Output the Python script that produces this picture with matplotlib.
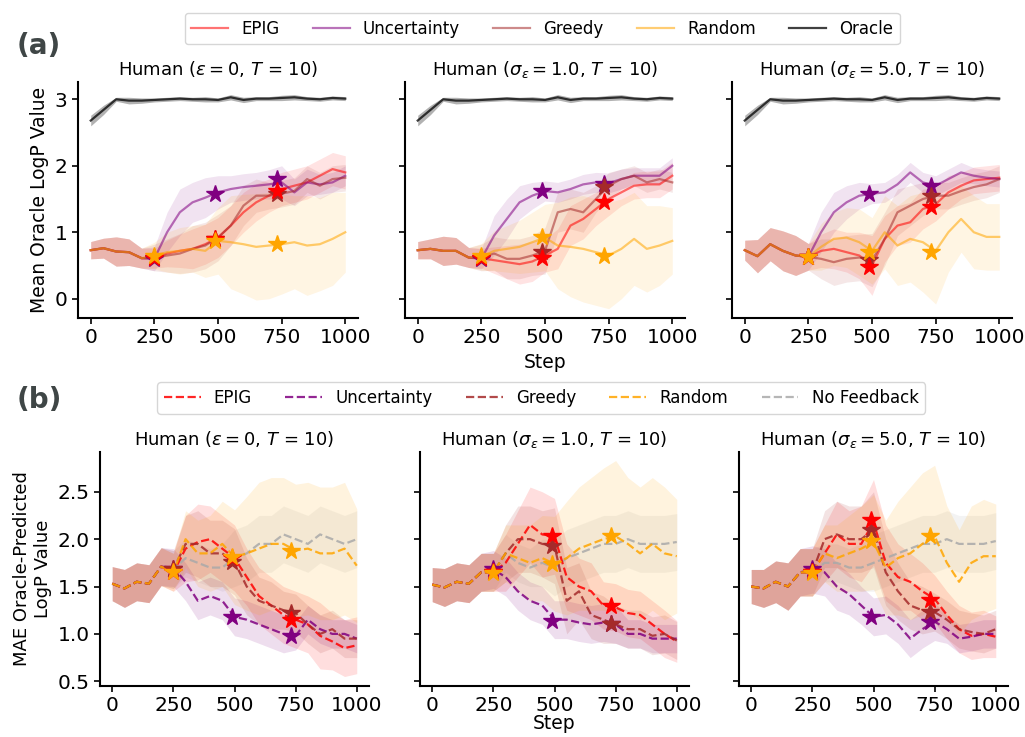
import numpy as np
import matplotlib
matplotlib.use("Agg")
from matplotlib import pyplot as plt
from matplotlib.lines import Line2D

steps = list(range(0, 1001, 50))
star_steps = [250, 490, 730]

titles = [r"Human ($\varepsilon = 0$, $T$ = 10)",
          r"Human ($\sigma_\varepsilon = 1.0$, $T$ = 10)",
          r"Human ($\sigma_\varepsilon = 5.0$, $T$ = 10)"]

# ---- (a) mean oracle logP ----
oracle = [2.68, 2.84, 3.0, 2.98, 2.98, 2.99, 3.0, 3.01, 3.0, 3.0, 2.99, 3.03, 2.99, 3.01, 3.01, 3.02, 3.03, 3.01, 3.0, 3.02, 3.01]
oracle_sd = [0.08, 0.07, 0.03, 0.05, 0.04, 0.03, 0.03, 0.03, 0.03, 0.04, 0.03, 0.04, 0.04, 0.03, 0.03, 0.04, 0.04, 0.03, 0.03, 0.03, 0.03]

a0_epig = [0.73, 0.76, 0.71, 0.70, 0.61, 0.61, 0.68, 0.72, 0.75, 0.82, 0.92, 1.1, 1.3, 1.45, 1.55, 1.65, 1.7, 1.75, 1.85, 1.95, 1.9]
a0_unc = [0.73, 0.76, 0.71, 0.70, 0.61, 0.60, 1.0, 1.3, 1.45, 1.52, 1.6, 1.65, 1.68, 1.7, 1.72, 1.75, 1.6, 1.75, 1.72, 1.75, 1.85]
a0_greedy = [0.73, 0.76, 0.71, 0.70, 0.61, 0.62, 0.65, 0.68, 0.75, 0.8, 0.92, 1.1, 1.4, 1.55, 1.55, 1.58, 1.62, 1.8, 1.7, 1.8, 1.82]
a0_rand = [0.73, 0.76, 0.71, 0.70, 0.61, 0.65, 0.7, 0.72, 0.75, 0.72, 0.87, 0.85, 0.82, 0.78, 0.8, 0.82, 0.85, 0.8, 0.82, 0.9, 1.0]
a0_epig_sd = [0.13, 0.15, 0.22, 0.2, 0.15, 0.15, 0.2, 0.25, 0.3, 0.3, 0.3, 0.3, 0.3, 0.28, 0.25, 0.25, 0.25, 0.25, 0.25, 0.25, 0.25]
a0_unc_sd = [0.13, 0.15, 0.22, 0.2, 0.15, 0.18, 0.3, 0.35, 0.3, 0.3, 0.25, 0.2, 0.2, 0.2, 0.22, 0.25, 0.2, 0.2, 0.15, 0.15, 0.15]
a0_greedy_sd = [0.13, 0.15, 0.22, 0.2, 0.15, 0.2, 0.25, 0.3, 0.35, 0.35, 0.35, 0.3, 0.3, 0.25, 0.2, 0.2, 0.2, 0.2, 0.2, 0.2, 0.2]
a0_rand_sd = [0.13, 0.15, 0.22, 0.2, 0.15, 0.2, 0.3, 0.35, 0.35, 0.4, 0.5, 0.7, 0.75, 0.8, 0.8, 0.75, 0.7, 0.75, 0.7, 0.7, 0.6]
a0_stars = {"epig": [0.62, 0.9, 1.62], "unc": [0.6, 1.58, 1.8], "greedy": [0.62, 0.9, 1.58], "rand": [0.65, 0.87, 0.82]}

a1_epig = [0.73, 0.75, 0.72, 0.72, 0.62, 0.61, 0.58, 0.55, 0.52, 0.56, 0.65, 0.75, 1.1, 1.2, 1.35, 1.5, 1.6, 1.7, 1.72, 1.72, 1.85]
a1_unc = [0.73, 0.75, 0.72, 0.72, 0.62, 0.60, 0.95, 1.2, 1.45, 1.55, 1.62, 1.6, 1.65, 1.72, 1.75, 1.74, 1.8, 1.85, 1.85, 1.85, 2.0]
a1_greedy = [0.73, 0.75, 0.72, 0.72, 0.62, 0.62, 0.68, 0.6, 0.6, 0.65, 0.72, 1.3, 1.35, 1.3, 1.5, 1.7, 1.8, 1.85, 1.75, 1.8, 1.75]
a1_rand = [0.73, 0.75, 0.72, 0.72, 0.62, 0.63, 0.72, 0.75, 0.78, 0.85, 0.92, 0.8, 0.78, 0.75, 0.7, 0.65, 0.75, 0.9, 0.75, 0.8, 0.87]
a1_epig_sd = [0.13, 0.15, 0.22, 0.2, 0.15, 0.15, 0.2, 0.25, 0.3, 0.3, 0.25, 0.3, 0.3, 0.3, 0.25, 0.25, 0.2, 0.2, 0.2, 0.2, 0.2]
a1_unc_sd = [0.13, 0.15, 0.22, 0.2, 0.15, 0.15, 0.3, 0.3, 0.25, 0.2, 0.15, 0.15, 0.15, 0.15, 0.15, 0.15, 0.15, 0.12, 0.12, 0.12, 0.12]
a1_greedy_sd = [0.13, 0.15, 0.22, 0.2, 0.15, 0.2, 0.25, 0.3, 0.3, 0.3, 0.35, 0.3, 0.3, 0.3, 0.2, 0.2, 0.15, 0.15, 0.15, 0.15, 0.15]
a1_rand_sd = [0.13, 0.15, 0.22, 0.2, 0.15, 0.2, 0.3, 0.35, 0.4, 0.45, 0.5, 0.65, 0.75, 0.8, 0.8, 0.8, 0.75, 0.7, 0.65, 0.6, 0.5]
a1_stars = {"epig": [0.62, 0.62, 1.46], "unc": [0.6, 1.62, 1.73], "greedy": [0.62, 0.7, 1.68], "rand": [0.64, 0.93, 0.64]}

a2_epig = [0.73, 0.64, 0.82, 0.72, 0.65, 0.63, 0.72, 0.75, 0.7, 0.65, 0.5, 0.9, 1.1, 1.15, 1.35, 1.42, 1.6, 1.7, 1.78, 1.8, 1.82]
a2_unc = [0.73, 0.64, 0.82, 0.72, 0.65, 0.63, 1.0, 1.3, 1.45, 1.55, 1.58, 1.6, 1.72, 1.9, 1.75, 1.7, 1.8, 1.9, 1.85, 1.82, 1.8]
a2_greedy = [0.73, 0.64, 0.82, 0.72, 0.65, 0.63, 0.6, 0.55, 0.6, 0.62, 0.58, 0.9, 1.3, 1.4, 1.5, 1.55, 1.55, 1.62, 1.68, 1.72, 1.8]
a2_rand = [0.73, 0.64, 0.82, 0.72, 0.65, 0.63, 0.78, 0.9, 0.92, 0.85, 0.72, 1.0, 0.8, 0.9, 0.85, 0.72, 1.0, 1.2, 1.0, 0.93, 0.93]
a2_epig_sd = [0.15, 0.25, 0.25, 0.3, 0.3, 0.2, 0.25, 0.3, 0.3, 0.35, 0.45, 0.35, 0.3, 0.3, 0.3, 0.25, 0.25, 0.2, 0.2, 0.2, 0.2]
a2_unc_sd = [0.15, 0.25, 0.25, 0.3, 0.3, 0.2, 0.3, 0.3, 0.25, 0.2, 0.15, 0.15, 0.15, 0.15, 0.15, 0.15, 0.15, 0.15, 0.12, 0.12, 0.12]
a2_greedy_sd = [0.15, 0.25, 0.25, 0.3, 0.3, 0.2, 0.3, 0.35, 0.35, 0.35, 0.4, 0.4, 0.35, 0.3, 0.25, 0.2, 0.2, 0.2, 0.2, 0.2, 0.2]
a2_rand_sd = [0.15, 0.25, 0.25, 0.3, 0.3, 0.2, 0.35, 0.4, 0.45, 0.5, 0.5, 0.55, 0.6, 0.65, 0.75, 0.8, 0.6, 0.5, 0.55, 0.5, 0.5]
a2_stars = {"epig": [0.63, 0.47, 1.38], "unc": [0.63, 1.58, 1.7], "greedy": [0.63, 0.58, 1.55], "rand": [0.63, 0.7, 0.7]}

# ---- (b) MAE oracle-predicted ----
b0_epig = [1.53, 1.48, 1.55, 1.53, 1.71, 1.65, 1.9, 1.97, 2.0, 1.9, 1.8, 1.6, 1.4, 1.3, 1.2, 1.15, 1.1, 0.98, 0.92, 0.85, 0.88]
b0_unc = [1.53, 1.48, 1.55, 1.53, 1.71, 1.7, 1.55, 1.35, 1.4, 1.35, 1.18, 1.15, 1.1, 1.05, 1.0, 0.98, 1.15, 1.05, 1.0, 1.0, 0.95]
b0_greedy = [1.53, 1.48, 1.55, 1.53, 1.71, 1.68, 1.95, 1.95, 1.85, 1.85, 1.76, 1.5, 1.35, 1.3, 1.25, 1.22, 1.1, 1.0, 1.05, 0.95, 0.95]
b0_rand = [1.53, 1.48, 1.55, 1.53, 1.71, 1.65, 2.0, 1.85, 1.85, 1.95, 1.81, 1.85, 1.9, 1.95, 1.95, 1.88, 1.9, 1.85, 1.85, 1.9, 1.72]
b0_nofb = [1.53, 1.48, 1.55, 1.53, 1.71, 1.68, 1.8, 1.75, 1.7, 1.7, 1.8, 1.85, 1.95, 1.95, 2.05, 2.0, 1.95, 2.05, 2.0, 1.95, 2.0]
b0_epig_sd = [0.18, 0.2, 0.2, 0.2, 0.2, 0.2, 0.35, 0.4, 0.35, 0.35, 0.35, 0.3, 0.3, 0.3, 0.3, 0.3, 0.3, 0.35, 0.3, 0.3, 0.3]
b0_unc_sd = [0.18, 0.2, 0.2, 0.2, 0.2, 0.2, 0.2, 0.2, 0.2, 0.2, 0.2, 0.2, 0.2, 0.2, 0.2, 0.15, 0.15, 0.15, 0.15, 0.15, 0.15]
b0_greedy_sd = [0.18, 0.2, 0.2, 0.2, 0.2, 0.2, 0.3, 0.35, 0.35, 0.35, 0.35, 0.3, 0.25, 0.25, 0.2, 0.2, 0.2, 0.2, 0.2, 0.2, 0.2]
b0_rand_sd = [0.18, 0.2, 0.2, 0.2, 0.2, 0.2, 0.3, 0.35, 0.4, 0.45, 0.5, 0.6, 0.7, 0.7, 0.7, 0.7, 0.7, 0.7, 0.7, 0.7, 0.6]
b0_nofb_sd = [0.18, 0.2, 0.2, 0.2, 0.2, 0.2, 0.2, 0.2, 0.2, 0.25, 0.3, 0.3, 0.3, 0.3, 0.3, 0.3, 0.3, 0.3, 0.3, 0.3, 0.3]
b0_stars = {"epig": [1.65, 1.8, 1.15], "unc": [1.68, 1.18, 0.98], "greedy": [1.68, 1.76, 1.22], "rand": [1.65, 1.81, 1.88]}

b1_epig = [1.52, 1.49, 1.55, 1.53, 1.65, 1.65, 1.75, 1.95, 2.15, 2.05, 2.03, 1.6, 1.5, 1.45, 1.3, 1.28, 1.22, 1.2, 1.1, 1.0, 0.92]
b1_unc = [1.52, 1.49, 1.55, 1.53, 1.65, 1.68, 1.6, 1.45, 1.35, 1.3, 1.15, 1.15, 1.12, 1.1, 1.12, 1.1, 1.0, 1.0, 0.95, 0.95, 0.95]
b1_greedy = [1.52, 1.49, 1.55, 1.53, 1.65, 1.65, 1.85, 2.0, 2.0, 1.95, 1.93, 1.35, 1.45, 1.2, 1.15, 1.1, 1.05, 1.05, 0.98, 1.0, 0.93]
b1_rand = [1.52, 1.49, 1.55, 1.53, 1.65, 1.65, 1.85, 1.8, 1.75, 1.8, 1.74, 1.8, 1.9, 1.95, 2.0, 2.03, 1.95, 1.85, 1.95, 1.85, 1.82]
b1_nofb = [1.52, 1.49, 1.55, 1.53, 1.65, 1.65, 1.85, 1.75, 1.7, 1.75, 1.7, 1.8, 1.85, 1.9, 1.95, 1.95, 2.0, 1.95, 1.95, 1.95, 1.97]
b1_epig_sd = [0.18, 0.2, 0.2, 0.2, 0.2, 0.2, 0.3, 0.35, 0.4, 0.45, 0.4, 0.35, 0.3, 0.3, 0.25, 0.25, 0.25, 0.25, 0.25, 0.25, 0.22]
b1_unc_sd = [0.18, 0.2, 0.2, 0.2, 0.2, 0.2, 0.2, 0.2, 0.2, 0.2, 0.2, 0.2, 0.2, 0.2, 0.2, 0.2, 0.15, 0.15, 0.15, 0.15, 0.15]
b1_greedy_sd = [0.18, 0.2, 0.2, 0.2, 0.2, 0.2, 0.3, 0.35, 0.35, 0.35, 0.4, 0.35, 0.3, 0.25, 0.25, 0.2, 0.2, 0.2, 0.2, 0.2, 0.2]
b1_rand_sd = [0.18, 0.2, 0.2, 0.2, 0.2, 0.2, 0.3, 0.35, 0.4, 0.45, 0.5, 0.6, 0.65, 0.7, 0.75, 0.8, 0.7, 0.7, 0.7, 0.7, 0.6]
b1_nofb_sd = [0.18, 0.2, 0.2, 0.2, 0.2, 0.2, 0.2, 0.2, 0.2, 0.25, 0.3, 0.3, 0.3, 0.3, 0.3, 0.3, 0.3, 0.3, 0.3, 0.3, 0.3]
b1_stars = {"epig": [1.65, 2.03, 1.29], "unc": [1.68, 1.14, 1.1], "greedy": [1.65, 1.93, 1.1], "rand": [1.64, 1.74, 2.03]}

b2_epig = [1.5, 1.48, 1.55, 1.5, 1.65, 1.65, 1.85, 2.05, 1.95, 1.95, 2.18, 1.75, 1.6, 1.55, 1.45, 1.37, 1.2, 1.05, 0.98, 1.0, 0.97]
b2_unc = [1.5, 1.48, 1.55, 1.5, 1.65, 1.68, 1.65, 1.5, 1.42, 1.3, 1.18, 1.2, 1.1, 0.95, 1.05, 1.13, 1.05, 0.95, 0.97, 1.0, 1.0]
b2_greedy = [1.5, 1.48, 1.55, 1.5, 1.65, 1.65, 2.0, 2.05, 2.0, 2.0, 2.1, 1.65, 1.45, 1.3, 1.25, 1.23, 1.15, 1.05, 1.02, 1.0, 1.05]
b2_rand = [1.5, 1.48, 1.55, 1.5, 1.65, 1.65, 1.85, 1.8, 1.85, 1.9, 1.97, 1.7, 1.8, 1.85, 1.95, 2.03, 1.75, 1.55, 1.75, 1.82, 1.82]
b2_nofb = [1.5, 1.48, 1.55, 1.5, 1.65, 1.65, 1.75, 1.75, 1.7, 1.7, 1.75, 1.8, 1.85, 1.9, 1.95, 1.95, 2.0, 1.95, 1.95, 1.95, 1.98]
b2_epig_sd = [0.18, 0.2, 0.22, 0.25, 0.25, 0.25, 0.3, 0.35, 0.35, 0.4, 0.45, 0.4, 0.35, 0.3, 0.3, 0.25, 0.25, 0.25, 0.25, 0.25, 0.22]
b2_unc_sd = [0.18, 0.2, 0.22, 0.25, 0.25, 0.25, 0.25, 0.25, 0.22, 0.2, 0.2, 0.2, 0.2, 0.2, 0.2, 0.2, 0.15, 0.15, 0.15, 0.15, 0.15]
b2_greedy_sd = [0.18, 0.2, 0.22, 0.25, 0.25, 0.25, 0.3, 0.35, 0.35, 0.35, 0.4, 0.35, 0.3, 0.25, 0.25, 0.2, 0.2, 0.2, 0.2, 0.2, 0.2]
b2_rand_sd = [0.18, 0.2, 0.22, 0.25, 0.25, 0.25, 0.3, 0.35, 0.4, 0.45, 0.5, 0.5, 0.6, 0.7, 0.75, 0.75, 0.6, 0.55, 0.6, 0.6, 0.55]
b2_nofb_sd = [0.18, 0.2, 0.22, 0.25, 0.25, 0.25, 0.2, 0.2, 0.2, 0.25, 0.3, 0.3, 0.3, 0.3, 0.3, 0.3, 0.3, 0.3, 0.3, 0.3, 0.3]
b2_stars = {"epig": [1.65, 2.2, 1.36], "unc": [1.68, 1.18, 1.13], "greedy": [1.65, 2.1, 1.23], "rand": [1.64, 1.98, 2.03]}

colors = {"epig": "red", "unc": "purple", "greedy": "brown", "rand": "orange",
          "oracle": "black", "nofb": "darkgray"}
names = {"epig": "EPIG", "unc": "Uncertainty", "greedy": "Greedy", "rand": "Random",
         "oracle": "Oracle", "nofb": "No Feedback"}

top_panels = [
    {"epig": (a0_epig, a0_epig_sd), "unc": (a0_unc, a0_unc_sd), "greedy": (a0_greedy, a0_greedy_sd),
     "rand": (a0_rand, a0_rand_sd), "stars": a0_stars},
    {"epig": (a1_epig, a1_epig_sd), "unc": (a1_unc, a1_unc_sd), "greedy": (a1_greedy, a1_greedy_sd),
     "rand": (a1_rand, a1_rand_sd), "stars": a1_stars},
    {"epig": (a2_epig, a2_epig_sd), "unc": (a2_unc, a2_unc_sd), "greedy": (a2_greedy, a2_greedy_sd),
     "rand": (a2_rand, a2_rand_sd), "stars": a2_stars},
]
bot_panels = [
    {"epig": (b0_epig, b0_epig_sd), "unc": (b0_unc, b0_unc_sd), "greedy": (b0_greedy, b0_greedy_sd),
     "rand": (b0_rand, b0_rand_sd), "nofb": (b0_nofb, b0_nofb_sd), "stars": b0_stars},
    {"epig": (b1_epig, b1_epig_sd), "unc": (b1_unc, b1_unc_sd), "greedy": (b1_greedy, b1_greedy_sd),
     "rand": (b1_rand, b1_rand_sd), "nofb": (b1_nofb, b1_nofb_sd), "stars": b1_stars},
    {"epig": (b2_epig, b2_epig_sd), "unc": (b2_unc, b2_unc_sd), "greedy": (b2_greedy, b2_greedy_sd),
     "rand": (b2_rand, b2_rand_sd), "nofb": (b2_nofb, b2_nofb_sd), "stars": b2_stars},
]

plt.rcParams["font.family"] = ["DejaVu Sans"]
fig = plt.figure(figsize=(10.25, 7.37), dpi=100)
W, H = 1025, 737


def add_ax(left, top, right, bottom):
    return fig.add_axes([left / W, 1 - bottom / H, (right - left) / W, (bottom - top) / H])


def style(ax):
    for s in ["top", "right"]:
        ax.spines[s].set_visible(False)
    for s in ["left", "bottom"]:
        ax.spines[s].set_linewidth(1.5)
    ax.tick_params(labelsize=14.5, width=1.2, length=4)
    ax.set_xlim(-50, 1050)
    ax.set_xticks([0, 250, 500, 750, 1000])


x = np.array(steps)
star_order = ["unc", "greedy", "epig", "rand"]
top_lefts = [78, 405, 732]
for i, p in enumerate(top_panels):
    ax = add_ax(top_lefts[i], 82, top_lefts[i] + 280, 318)
    style(ax)
    m = np.array(oracle); s = np.array(oracle_sd)
    ax.fill_between(x, m - s, m + s, color="black", alpha=0.3, lw=0)
    ax.plot(x, m, color="black", alpha=0.75, lw=1.6)
    for k in ["epig", "unc", "greedy", "rand"]:
        m = np.array(p[k][0]); s = np.array(p[k][1])
        ax.fill_between(x, m - s, m + s, color=colors[k], alpha=0.11, lw=0)
    for k in ["epig", "unc", "greedy", "rand"]:
        ax.plot(x, p[k][0], color=colors[k], alpha=0.55, lw=1.6)
    for k in star_order:
        ax.plot(star_steps, p["stars"][k], ls="none", marker="*", ms=13, color=colors[k], zorder=5)
    ax.set_ylim(-0.29, 3.26)
    ax.set_yticks([0, 1, 2, 3])
    ax.set_title(titles[i], fontsize=13, pad=5)
    if i == 0:
        ax.set_ylabel("Mean Oracle LogP Value", fontsize=13.5)
    else:
        ax.tick_params(labelleft=False)
    if i == 1:
        ax.set_xlabel("Step", fontsize=13.5)

bot_lefts = [100, 420, 739]
for i, p in enumerate(bot_panels):
    ax = add_ax(bot_lefts[i], 452, bot_lefts[i] + 269, 686)
    style(ax)
    for k in ["nofb", "epig", "unc", "greedy", "rand"]:
        m = np.array(p[k][0]); s = np.array(p[k][1])
        ax.fill_between(x, m - s, m + s, color=colors[k], alpha=0.13, lw=0)
    for k in ["nofb", "epig", "unc", "greedy", "rand"]:
        ax.plot(x, p[k][0], color=colors[k], ls="--", alpha=0.85, lw=1.6)
    for k in star_order:
        ax.plot(star_steps, p["stars"][k], ls="none", marker="*", ms=13, color=colors[k], zorder=5)
    ax.set_ylim(0.45, 2.92)
    ax.set_yticks([0.5, 1.0, 1.5, 2.0, 2.5])
    ax.set_title(titles[i], fontsize=13, pad=5)
    if i == 0:
        ax.set_ylabel("MAE Oracle-Predicted\nLogP Value", fontsize=13)
    else:
        ax.tick_params(labelleft=False)
    if i == 1:
        ax.set_xlabel("Step", fontsize=13.5, labelpad=-1)

top_keys = ["epig", "unc", "greedy", "rand", "oracle"]
top_handles = [Line2D([], [], color=colors[k], alpha=0.75 if k == "oracle" else 0.55, lw=1.6)
               for k in top_keys]
fig.legend(top_handles, [names[k] for k in top_keys],
           loc="center", bbox_to_anchor=(0.529, 0.961), ncol=5, fontsize=12,
           columnspacing=2.0, handlelength=2.2, handletextpad=0.8)
bot_keys = ["epig", "unc", "greedy", "rand", "nofb"]
bot_handles = [Line2D([], [], color=colors[k], ls="--", alpha=0.85, lw=1.6)
               for k in bot_keys]
fig.legend(bot_handles, [names[k] for k in bot_keys],
           loc="center", bbox_to_anchor=(0.528, 0.46), ncol=5, fontsize=12,
           columnspacing=2.0, handlelength=2.2, handletextpad=0.8)

fig.text(0.016, 0.938, "(a)", fontsize=20, fontweight="bold", color="#3f4646", va="center")
fig.text(0.016, 0.457, "(b)", fontsize=20, fontweight="bold", color="#3f4646", va="center")

fig.savefig("out.png", dpi=100)
